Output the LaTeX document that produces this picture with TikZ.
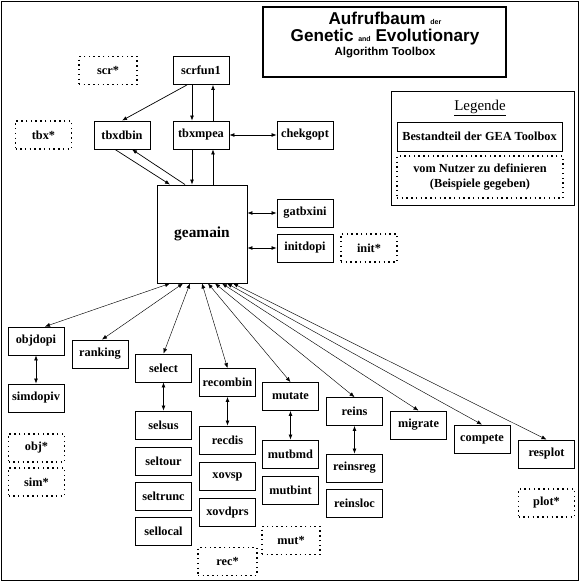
\documentclass[tikz,border=0pt]{standalone}
\usepackage{fontspec}
\setmainfont{Liberation Serif}
\newfontfamily\titlefont{Liberation Sans}
\usetikzlibrary{arrows.meta}
\tikzset{
  tip/.tip={Latex[length=2mm,width=1.6mm]},
  arrow/.style={-tip,draw=black,line width=0.8pt},
  both/.style={tip-tip,draw=black,line width=0.8pt},
  fan/.style={tip-tip,draw=black,line width=0.5pt},
  tool/.style={rectangle,draw=black,line width=1pt,fill=white,
    minimum width=2.24cm,minimum height=1.12cm,inner sep=0pt,align=center,
    font=\bfseries\fontsize{14}{16}\selectfont},
  user/.style={tool,dash pattern=on 1.6pt off 3.8pt,line width=1.3pt},
  titlebox/.style={rectangle,draw=black,line width=2.5pt,
    minimum width=9.72cm,minimum height=2.8cm},
  titleline/.style={anchor=base,font=\titlefont\bfseries,inner sep=0pt},
}

\begin{document}
\begin{tikzpicture}[x=1cm,y=1cm]

\useasboundingbox (0,0) rectangle (23.28,23.28);
\draw[line width=0.8pt] (0.04,0.08) rectangle (23.12,23.24);

% title
\node[titlebox] (titlebox) at (15.38,21.60) {};
\node[titleline,font=\titlefont\bfseries\fontsize{19.5}{21}\selectfont] (title1) at (15.40,22.30)
  {Aufrufbaum {\fontsize{8}{9}\selectfont der}};
\node[titleline,font=\titlefont\bfseries\fontsize{19.5}{21}\selectfont] (title2) at (15.40,21.62)
  {Genetic {\fontsize{8}{9}\selectfont and} Evolutionary};
\node[titleline,font=\titlefont\bfseries\fontsize{13}{14}\selectfont] (title3) at (15.40,21.04)
  {Algorithm Toolbox};

% legend
\node[rectangle,draw=black,line width=1pt,minimum width=7.32cm,minimum height=4.56cm] (legend) at (19.30,17.36) {};
\node[anchor=base,font=\fontsize{17}{19}\selectfont] (legtitle) at (19.20,18.84) {\underline{Legende}};
\node[tool,minimum width=6.6cm,minimum height=1.16cm] (legtool) at (19.18,17.82) {Bestandteil der GEA Toolbox};
\node[user,minimum width=6.64cm,minimum height=1.68cm] (leguser) at (19.20,16.20) {vom Nutzer zu definieren\\(Beispiele gegeben)};

% upper part
\node[user,minimum width=2.32cm] (scruser) at (4.32,20.46) {scr*};
\node[tool] (scrfun1) at (8.04,20.46) {scrfun1};
\node[user] (tbxuser) at (1.74,17.88) {tbx*};
\node[tool] (tbxdbin) at (4.88,17.88) {tbxdbin};
\node[tool] (tbxmpea) at (8.04,17.88) {tbxmpea};
\node[tool] (chekgopt) at (12.2,17.88) {chekgopt};

\node[tool,minimum width=3.6cm,minimum height=3.92cm,font=\bfseries\fontsize{17.5}{19}\selectfont] (geamain) at (8.08,13.92) {geamain};

\node[tool] (gatbxini) at (12.2,14.76) {gatbxini};
\node[tool] (initdopi) at (12.2,13.36) {initdopi};
\node[user] (inituser) at (14.76,13.36) {init*};

\draw[arrow] ([xshift=-0.56cm]scrfun1.south) -- (tbxdbin.north);
\draw[arrow] ([xshift=-0.36cm]scrfun1.south) -- ([xshift=-0.36cm]scrfun1.south |- tbxmpea.north);
\draw[arrow] ([xshift=0.48cm]tbxmpea.north) -- ([xshift=0.48cm]tbxmpea.north |- scrfun1.south);
\draw[both] (tbxmpea.east) -- (chekgopt.west);
\draw[arrow] ([xshift=-0.36cm]tbxmpea.south) -- ([xshift=-0.36cm]tbxmpea.south |- geamain.north);
\draw[arrow] ([xshift=0.48cm]tbxmpea.south |- geamain.north) -- ([xshift=0.48cm]tbxmpea.south);
\draw[arrow] ([xshift=-0.28cm]tbxdbin.south) -- ([xshift=-1.28cm]geamain.north);
\draw[arrow] ([xshift=-0.68cm]geamain.north) -- ([xshift=0.4cm]tbxdbin.south);
\draw[both] (geamain.east |- gatbxini.west) -- (gatbxini.west);
\draw[both] (geamain.east |- initdopi.west) -- (initdopi.west);

% lower part
\node[tool] (objdopi) at (1.44,9.64) {objdopi};
\node[tool] (simdopiv) at (1.44,7.36) {simdopiv};
\node[user] (objuser) at (1.46,5.36) {obj*};
\node[user] (simuser) at (1.46,4.00) {sim*};

\node[tool] (ranking) at (4.00,9.12) {ranking};

\node[tool] (select) at (6.54,8.56) {select};
\node[tool] (selsus) at (6.54,6.28) {selsus};
\node[tool] (seltour) at (6.54,4.82) {seltour};
\node[tool] (seltrunc) at (6.54,3.42) {seltrunc};
\node[tool] (sellocal) at (6.54,2.02) {sellocal};

\node[tool] (recombin) at (9.10,7.98) {recombin};
\node[tool] (recdis) at (9.10,5.68) {recdis};
\node[tool] (xovsp) at (9.10,4.22) {xovsp};
\node[tool] (xovdprs) at (9.10,2.78) {xovdprs};
\node[user,minimum width=2.36cm] (recuser) at (9.10,0.82) {rec*};

\node[tool] (mutate) at (11.62,7.42) {mutate};
\node[tool] (mutbmd) at (11.62,5.12) {mutbmd};
\node[tool] (mutbint) at (11.62,3.68) {mutbint};
\node[user,minimum width=2.32cm] (mutuser) at (11.64,1.66) {mut*};

\node[tool] (reins) at (14.18,6.82) {reins};
\node[tool] (reinsreg) at (14.18,4.56) {reinsreg};
\node[tool] (reinsloc) at (14.18,3.16) {reinsloc};

\node[tool] (migrate) at (16.74,6.28) {migrate};
\node[tool] (compete) at (19.28,5.72) {compete};
\node[tool] (resplot) at (21.86,5.12) {resplot};
\node[user] (plotuser) at (21.86,3.16) {plot*};

\draw[fan] ([xshift=-1.28cm]geamain.south) -- ([xshift=0.36cm]objdopi.north);
\draw[fan] ([xshift=-0.76cm]geamain.south) -- ([xshift=0.08cm]ranking.north);
\draw[fan] ([xshift=-0.48cm]geamain.south) -- (select.north);
\draw[fan] (geamain.south) -- (recombin.north);
\draw[fan] ([xshift=0.24cm]geamain.south) -- (mutate.north);
\draw[fan] ([xshift=0.52cm]geamain.south) -- (reins.north);
\draw[fan] ([xshift=0.80cm]geamain.south) -- (migrate.north);
\draw[fan] ([xshift=1.00cm]geamain.south) -- (compete.north);
\draw[fan] ([xshift=1.24cm]geamain.south) -- (resplot.north);

\draw[both] (objdopi.south) -- (simdopiv.north);
\draw[both] (select.south) -- (selsus.north);
\draw[both] (recombin.south) -- (recdis.north);
\draw[both] (mutate.south) -- (mutbmd.north);
\draw[both] (reins.south) -- (reinsreg.north);

\end{tikzpicture}
\end{document}
